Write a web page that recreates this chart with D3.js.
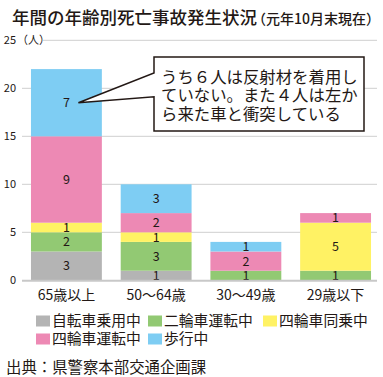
<!DOCTYPE html>
<html><head><meta charset="utf-8">
<script src="https://cdn.jsdelivr.net/npm/d3@7"></script>
<style>
body{margin:0;background:#fff;}
text{font-family:"Noto Sans CJK JP","Noto Sans",sans-serif;}
</style></head>
<body><svg id="c" width="383" height="377"></svg>
<script>
const categories = ["65歳以上", "50〜64歳", "30〜49歳", "29歳以下"];
const seriesNames = ["自転車乗用中", "二輪車運転中", "四輪車同乗中", "四輪車運転中", "歩行中"];
const bicycle   = [3, 1, 0, 0];
const twoWheel  = [2, 3, 1, 1];
const carPass   = [1, 1, 0, 5];
const carDriver = [9, 2, 2, 1];
const walking   = [7, 3, 1, 0];
const yTicks = [0, 5, 10, 15, 20, 25];
const colors = ["#b4b4b4", "#92c973", "#fff264", "#ed89b4", "#7ecdf3"];
const calloutLines = ["うち６人は反射材を着用し", "ていない。また４人は左か", "ら来た車と衝突している"];

const seriesVals = [bicycle, twoWheel, carPass, carDriver, walking];
const rows = categories.map((c, i) => {
  const r = {cat: c};
  seriesNames.forEach((s, j) => r[s] = seriesVals[j][i]);
  return r;
});
const stack = d3.stack().keys(seriesNames)(rows);

const svg = d3.select("#c");
const x = d3.scaleBand().domain(categories).range([22, 380]).paddingInner(0.21).paddingOuter(0.1);
const y = d3.scaleLinear().domain([0, 25]).range([280.3, 40.3]);

// title
const t = svg.append("text").attr("x", 12).attr("y", 24).attr("fill", "#231815");
t.append("tspan").text("年間の年齢別死亡事故発生状況").attr("font-size", 17.5).attr("font-weight", 500);
t.append("tspan").text("（元年10月末現在）").attr("font-size", 14).attr("font-weight", 500).attr("dx", -5);

// grid
svg.append("g").selectAll("line").data(yTicks.filter(d => d > 0)).join("line")
  .attr("x1", d => d === 25 ? 43 : 22).attr("x2", 377)
  .attr("y1", d => y(d)).attr("y2", d => y(d))
  .attr("stroke", "#cfcfcf").attr("stroke-width", 1);

// tick labels
svg.append("g").selectAll("text").data(yTicks).join("text")
  .attr("x", 16).attr("y", d => y(d)).attr("dy", "0.35em")
  .attr("text-anchor", "end").attr("font-size", 11).attr("fill", "#231815")
  .text(d => d);
svg.append("text").attr("x", 17).attr("y", y(25)).attr("dy", "0.35em")
  .attr("font-size", 11).attr("fill", "#231815").text("（人）");

// bars
const g = svg.append("g");
stack.forEach((s, j) => {
  g.selectAll(null).data(s.filter(d => d[1] - d[0] > 0)).join("rect")
    .attr("x", d => x(d.data.cat)).attr("width", x.bandwidth())
    .attr("y", d => y(d[1])).attr("height", d => y(d[0]) - y(d[1]))
    .attr("fill", colors[j]);
});
stack.forEach((s, j) => {
  g.selectAll(null).data(s.filter(d => d[1] - d[0] > 0)).join("text")
    .attr("x", d => x(d.data.cat) + x.bandwidth() / 2)
    .attr("y", d => (y(d[0]) + y(d[1])) / 2).attr("dy", "0.36em")
    .attr("text-anchor", "middle").attr("font-size", 12.5).attr("fill", "#231815")
    .text(d => d[1] - d[0]);
});

// baseline
svg.append("line").attr("x1", 22).attr("x2", 377).attr("y1", y(0)+0.5).attr("y2", y(0)+0.5)
  .attr("stroke", "#c8c8c8").attr("stroke-width", 2);

// x labels
svg.append("g").selectAll("text").data(categories).join("text")
  .attr("x", d => x(d) + x.bandwidth() / 2).attr("y", 295).attr("dy", "0.36em")
  .attr("text-anchor", "middle").attr("font-size", 14).attr("fill", "#231815").text(d => d);

// legend
const legPos = [[36, 321], [148, 321], [263, 321], [36, 339], [148, 339]];
const lg = svg.append("g").selectAll("g").data(seriesNames).join("g")
  .attr("transform", (d, i) => `translate(${legPos[i][0]},${legPos[i][1]})`);
lg.append("rect").attr("x", 0).attr("y", -5.5).attr("width", 14).attr("height", 11)
  .attr("fill", (d, i) => colors[i]);
lg.append("text").attr("x", 16).attr("y", 0).attr("dy", "0.36em")
  .attr("font-size", 14.8).attr("fill", "#231815").text(d => d);

// source
svg.append("text").attr("x", 6).attr("y", 367).attr("dy", "0.36em")
  .attr("font-size", 15.4).attr("fill", "#231815").text("出典：県警察本部交通企画課");

// callout
const tipX = x(categories[0]) + x.bandwidth() / 2 + 12, tipY = y(18.5);
const bx0 = 154, bx1 = 364, by0 = 57, by1 = 131;
svg.append("path")
  .attr("d", `M${bx0},${by0}H${bx1}V${by1}H${bx0}V96.7L${tipX},${tipY}L${bx0},73Z`)
  .attr("fill", "#fff").attr("stroke", "#231815").attr("stroke-width", 1.5);
svg.append("g").selectAll("text").data(calloutLines).join("text")
  .attr("x", 161).attr("y", (d, i) => 77 + i * 18.3).attr("dy", "0.36em")
  .attr("font-size", 16.4).attr("fill", "#231815").text(d => d);
</script></body></html>
